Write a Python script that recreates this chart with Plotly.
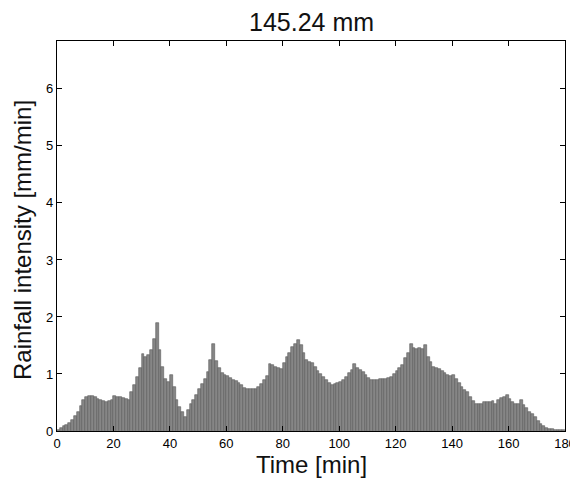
import plotly.graph_objects as go

minutes = list(range(180))
intensity = [
    0.02, 0.05, 0.08, 0.11, 0.14, 0.19, 0.26, 0.34, 0.44, 0.55,
    0.60, 0.62, 0.62, 0.60, 0.57, 0.54, 0.52, 0.50, 0.52, 0.55,
    0.62, 0.60, 0.59, 0.58, 0.56, 0.55, 0.68, 0.80, 0.95, 1.10,
    1.35, 1.30, 1.33, 1.42, 1.62, 1.90, 1.42, 1.12, 0.92, 0.86,
    0.98, 0.78, 0.55, 0.42, 0.33, 0.25, 0.36, 0.47, 0.54, 0.64,
    0.73, 0.82, 0.92, 1.03, 1.24, 1.52, 1.22, 1.10, 1.02, 0.99,
    0.96, 0.93, 0.90, 0.88, 0.84, 0.80, 0.76, 0.73, 0.73, 0.74,
    0.74, 0.78, 0.83, 0.89, 0.97, 1.18, 1.15, 1.12, 1.10, 1.09,
    1.20, 1.30, 1.37, 1.47, 1.53, 1.60, 1.50, 1.37, 1.25, 1.21,
    1.19, 1.12, 1.05, 1.00, 0.94, 0.89, 0.84, 0.81, 0.83, 0.85,
    0.86, 0.89, 0.95, 1.02, 1.07, 1.18, 1.11, 1.07, 1.03, 0.98,
    0.93, 0.90, 0.89, 0.90, 0.91, 0.92, 0.92, 0.93, 0.95, 1.00,
    1.06, 1.10, 1.15, 1.28, 1.37, 1.53, 1.45, 1.43, 1.45, 1.43,
    1.50, 1.30, 1.21, 1.13, 1.11, 1.08, 1.05, 1.01, 0.99, 0.96,
    0.99, 0.92, 0.84, 0.77, 0.72, 0.68, 0.60, 0.52, 0.48, 0.47,
    0.48, 0.50, 0.51, 0.50, 0.52, 0.47, 0.54, 0.58, 0.59, 0.63,
    0.57, 0.51, 0.47, 0.47, 0.54, 0.46, 0.40, 0.34, 0.30, 0.24,
    0.17, 0.12, 0.09, 0.06, 0.04, 0.03, 0.02, 0.015, 0.01, 0.01,
]
x_ticks = [0, 20, 40, 60, 80, 100, 120, 140, 160, 180]
y_ticks = [0, 1, 2, 3, 4, 5, 6]
title_text = "145.24 mm"
x_label = "Time [min]"
y_label = "Rainfall intensity [mm/min]"

W, H = 570, 479
L, R, T, B = 57, 5, 41, 48
pw, ph = W - L - R, H - T - B

fig = go.Figure()
fig.add_trace(go.Bar(
    x=[m + 0.5 for m in minutes],
    y=intensity,
    width=1.0,
    marker=dict(color="#868686", line=dict(color="#5a5a5a", width=0.6)),
    showlegend=False,
    hoverinfo="skip",
))

font = "Liberation Sans, Arial, sans-serif"
fig.update_layout(
    width=W, height=H,
    margin=dict(l=L, r=R, t=T, b=B, autoexpand=False),
    paper_bgcolor="white", plot_bgcolor="white",
    bargap=0,
    font=dict(family=font, color="black", size=13),
    annotations=[
        dict(text=title_text, xref="paper", yref="paper",
             x=(311 - L) / pw, y=1 + (41 - 22) / ph, xanchor="center", yanchor="middle",
             showarrow=False, font=dict(size=25, family=font, color="#111")),
        dict(text=x_label, xref="paper", yref="paper",
             x=(311 - L) / pw, y=-(465 - (H - B)) / ph, xanchor="center", yanchor="middle",
             showarrow=False, font=dict(size=24, family=font, color="#111")),
        dict(text=y_label, xref="paper", yref="paper", textangle=-90,
             x=-(L - 22) / pw, y=(431 - 240) / ph, xanchor="center", yanchor="middle",
             showarrow=False, font=dict(size=24, family=font, color="#111")),
    ],
)
fig.update_xaxes(
    range=[0, 180], tickvals=x_ticks, ticktext=[str(v) for v in x_ticks],
    ticks="inside", ticklen=5, tickcolor="black",
    showline=True, linecolor="black", linewidth=1.2, mirror="ticks",
    showgrid=False, zeroline=False, automargin=False,
    ticklabeloverflow="allow",
    tickfont=dict(size=13, family=font),
)
fig.update_yaxes(
    range=[0, 6.84], tickvals=y_ticks, ticktext=[str(v) for v in y_ticks],
    ticks="inside", ticklen=5, tickcolor="black",
    showline=True, linecolor="black", linewidth=1.2, mirror="ticks",
    showgrid=False, zeroline=False, automargin=False,
    ticklabeloverflow="allow",
    tickfont=dict(size=13, family=font),
)

fig.write_html(
    "out.html",
    config={"displayModeBar": False},
    post_script="document.body.style.margin='0';document.body.style.padding='0';document.body.style.overflow='hidden';",
)
